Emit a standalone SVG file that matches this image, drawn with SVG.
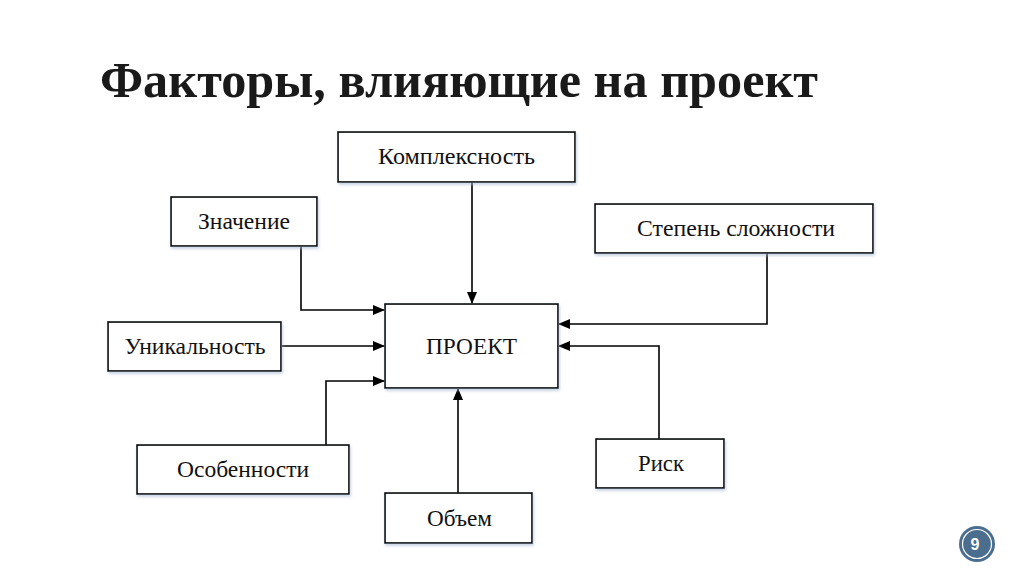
<svg xmlns="http://www.w3.org/2000/svg" width="1024" height="574" viewBox="0 0 1024 574">
<defs>
<marker id="ah" markerWidth="12" markerHeight="10" refX="11" refY="5" orient="auto" markerUnits="userSpaceOnUse">
<path d="M0,0 L12,5 L0,10 Z" fill="#000"/>
</marker>
<filter id="sh" x="-10%" y="-10%" width="120%" height="130%">
<feDropShadow dx="1" dy="2" stdDeviation="1.5" flood-color="#9fb4d0" flood-opacity="0.6"/>
</filter>
</defs>
<style>
.box{fill:#fff;stroke:#000;stroke-width:1.6;filter:url(#sh)}
.lbl{font-family:"Liberation Serif","Times New Roman",serif;font-size:24px;fill:#111;text-anchor:middle}
.con{fill:none;stroke:#000;stroke-width:1.6;marker-end:url(#ah)}
.title{font-family:"Liberation Serif","Times New Roman",serif;font-size:50px;font-weight:bold;fill:#1a1a1a}
</style>
<rect width="1024" height="574" fill="#fff"/>
<text class="title" x="100" y="97" textLength="718" lengthAdjust="spacingAndGlyphs">Факторы, влияющие на проект</text>

<g id="connectors">
<path class="con" d="M472,182 V303"/>
<path class="con" d="M301,246 V310 H384"/>
<path class="con" d="M281,346 H384"/>
<path class="con" d="M326,445 V381 H384"/>
<path class="con" d="M767,253 V324 H559"/>
<path class="con" d="M659,439 V346 H559"/>
<path class="con" d="M458,493 V389"/>
</g>

<g id="n-kompleksnost"><rect class="box" x="338" y="132" width="237" height="50"/><text class="lbl" x="456.5" y="164" textLength="157" lengthAdjust="spacingAndGlyphs">Комплексность</text></g>
<g id="n-znachenie"><rect class="box" x="171" y="197" width="146" height="49"/><text class="lbl" x="244" y="229" textLength="92" lengthAdjust="spacingAndGlyphs">Значение</text></g>
<g id="n-stepen"><rect class="box" x="595" y="204" width="278" height="49"/><text class="lbl" x="736" y="236" textLength="198" lengthAdjust="spacingAndGlyphs">Степень сложности</text></g>
<g id="n-proekt"><rect class="box" x="385" y="304" width="173" height="84"/><text class="lbl" x="471.5" y="354" textLength="91" lengthAdjust="spacingAndGlyphs">ПРОЕКТ</text></g>
<g id="n-unikalnost"><rect class="box" x="108" y="322" width="173" height="49"/><text class="lbl" x="195" y="354" textLength="141" lengthAdjust="spacingAndGlyphs">Уникальность</text></g>
<g id="n-osobennosti"><rect class="box" x="137" y="445" width="212" height="49"/><text class="lbl" x="243" y="477" textLength="132" lengthAdjust="spacingAndGlyphs">Особенности</text></g>
<g id="n-obem"><rect class="box" x="385" y="493" width="147" height="50"/><text class="lbl" x="459.5" y="526" textLength="65" lengthAdjust="spacingAndGlyphs">Объем</text></g>
<g id="n-risk"><rect class="box" x="596" y="439" width="128" height="49"/><text class="lbl" x="661" y="471" textLength="46" lengthAdjust="spacingAndGlyphs">Риск</text></g>

<g id="page-num">
<circle cx="977" cy="544" r="18" fill="#4b6e8e"/>
<circle cx="977" cy="544" r="14.5" fill="none" stroke="#fff" stroke-width="1.2"/>
<text x="975" y="550" font-family="Liberation Sans, Arial, sans-serif" font-size="16" font-weight="bold" fill="#fff" text-anchor="middle">9</text>
</g>
</svg>
